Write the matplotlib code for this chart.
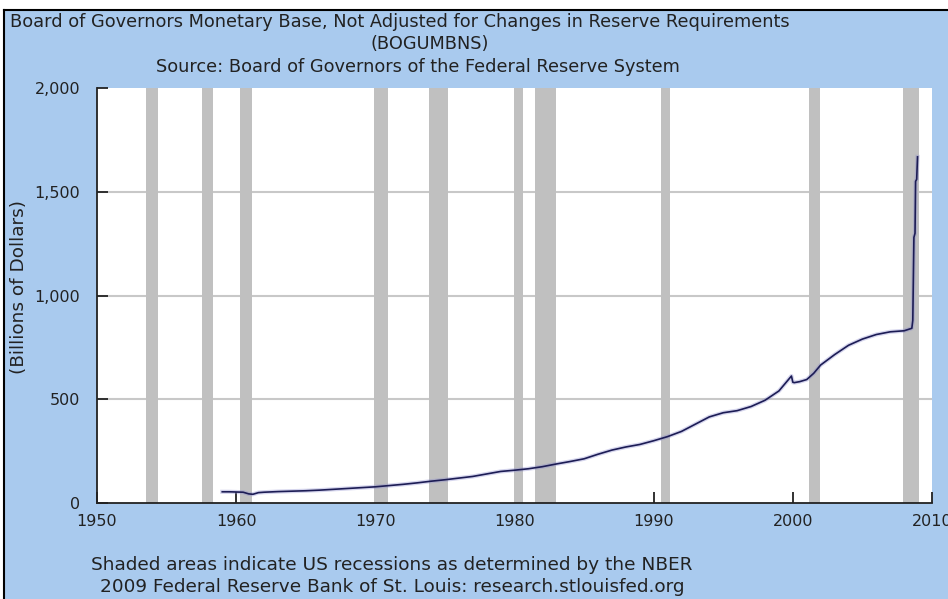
import matplotlib
matplotlib.use('Agg')
from matplotlib import pyplot as plt
from matplotlib.ticker import FuncFormatter

# series (billions of dollars)
years = [1959.0, 1959.5, 1960.0, 1960.5, 1960.9, 1961.2, 1961.6, 1962, 1963, 1964,
         1965, 1966, 1967, 1968, 1969, 1970, 1971, 1972, 1973, 1974,
         1975, 1976, 1977, 1978, 1979, 1980, 1981, 1982, 1983, 1984,
         1985, 1986, 1987, 1988, 1989, 1990, 1991, 1992, 1993, 1994,
         1995, 1996, 1997, 1998, 1999, 1999.9, 2000.0, 2000.1, 2000.5, 2001,
         2001.5, 2002, 2003, 2004, 2005, 2006, 2007, 2008, 2008.55, 2008.62,
         2008.70, 2008.78, 2008.82, 2008.90, 2008.96]
values = [54, 54, 53, 52, 44, 42, 50, 52, 55, 57,
          59, 62, 66, 70, 74, 78, 84, 90, 97, 105,
          112, 120, 128, 140, 152, 158, 165, 175, 188, 200,
          213, 235, 255, 270, 282, 300, 320, 345, 380, 415,
          435, 445, 465, 495, 540, 612, 582, 580, 585, 595,
          625, 665, 715, 760, 790, 812, 825, 830, 842, 880,
          1280, 1300, 1550, 1560, 1668]

# NBER recessions
rec_start = [1953.5, 1957.55, 1960.25, 1969.9, 1973.85, 1979.95, 1981.45, 1990.55, 2001.15, 2007.9]
rec_end = [1954.4, 1958.3, 1961.15, 1970.9, 1975.2, 1980.6, 1982.95, 1991.2, 2001.95, 2009.1]

x_ticks = [1950, 1960, 1970, 1980, 1990, 2000, 2010]
y_ticks = [0, 500, 1000, 1500, 2000]

bg = '#a9caee'
ink = '#222222'
fig = plt.figure(figsize=(9.48, 5.99), dpi=100)
fig.patch.set_facecolor('white')

# blue panel with black left/top border
panel = plt.Rectangle((4 / 948, 0), 1, 1 - 10 / 599, transform=fig.transFigure,
                      facecolor=bg, edgecolor='none', zorder=-5)
fig.patches.append(panel)
fig.add_artist(plt.Line2D([4 / 948, 4 / 948], [0, 1 - 10 / 599], color='black', lw=1.5,
                          transform=fig.transFigure, zorder=-4))
fig.add_artist(plt.Line2D([4 / 948, 1], [1 - 10 / 599, 1 - 10 / 599], color='black', lw=1.5,
                          transform=fig.transFigure, zorder=-4))

ax = fig.add_axes([97 / 948, 96 / 599, 835 / 948, 415 / 599])
ax.set_zorder(2)
ax.set_facecolor('white')

for s, e in zip(rec_start, rec_end):
    ax.axvspan(s, e, color='#c0c0c0', lw=0, zorder=2)

for v in y_ticks[1:-1]:
    ax.axhline(v, color='#c8c8c8', lw=1.5, zorder=1)

ax.plot(years, values, color='#8888cc', lw=3.0, alpha=0.35, zorder=3)
ax.plot(years, values, color='#1c1c55', lw=1.2, zorder=4)

ax.set_xlim(1950, 2010)
ax.set_ylim(0, 2000)
ax.set_xticks(x_ticks)
ax.set_yticks(y_ticks)
ax.yaxis.set_major_formatter(FuncFormatter(lambda v, p: f'{int(v):,}'))

for sp in ['top', 'right']:
    ax.spines[sp].set_visible(False)
for sp in ['left', 'bottom']:
    ax.spines[sp].set_color(ink)
    ax.spines[sp].set_linewidth(1.3)
    ax.spines[sp].set_zorder(5)

ax.tick_params(direction='in', length=8, width=1.3, color=ink,
               labelsize=11.5, labelcolor=ink)
for lab in ax.get_xticklabels() + ax.get_yticklabels():
    lab.set_family('DejaVu Sans')
ax.tick_params(axis='x', pad=8)
ax.tick_params(axis='y', pad=12)

ax.set_ylabel('(Billions of Dollars)', fontsize=13.3, color=ink, family='DejaVu Sans')
ax.yaxis.set_label_coords(-0.083, 0.52)

fig.text(400 / 948, 1 - 22 / 599, 'Board of Governors Monetary Base, Not Adjusted for Changes in Reserve Requirements',
         ha='center', va='center', fontsize=12.8, color=ink)
fig.text(430 / 948, 1 - 44 / 599, '(BOGUMBNS)', ha='center', va='center', fontsize=12.8, color=ink)
fig.text(418 / 948, 1 - 67 / 599, 'Source: Board of Governors of the Federal Reserve System',
         ha='center', va='center', fontsize=12.8, color=ink)

fig.text(392 / 948, 1 - 565 / 599, 'Shaded areas indicate US recessions as determined by the NBER',
         ha='center', va='center', fontsize=13.3, color=ink)
fig.text(392 / 948, 1 - 587 / 599, '2009 Federal Reserve Bank of St. Louis: research.stlouisfed.org',
         ha='center', va='center', fontsize=13.3, color=ink)

plt.savefig('out.png', dpi=100, facecolor=fig.get_facecolor())
